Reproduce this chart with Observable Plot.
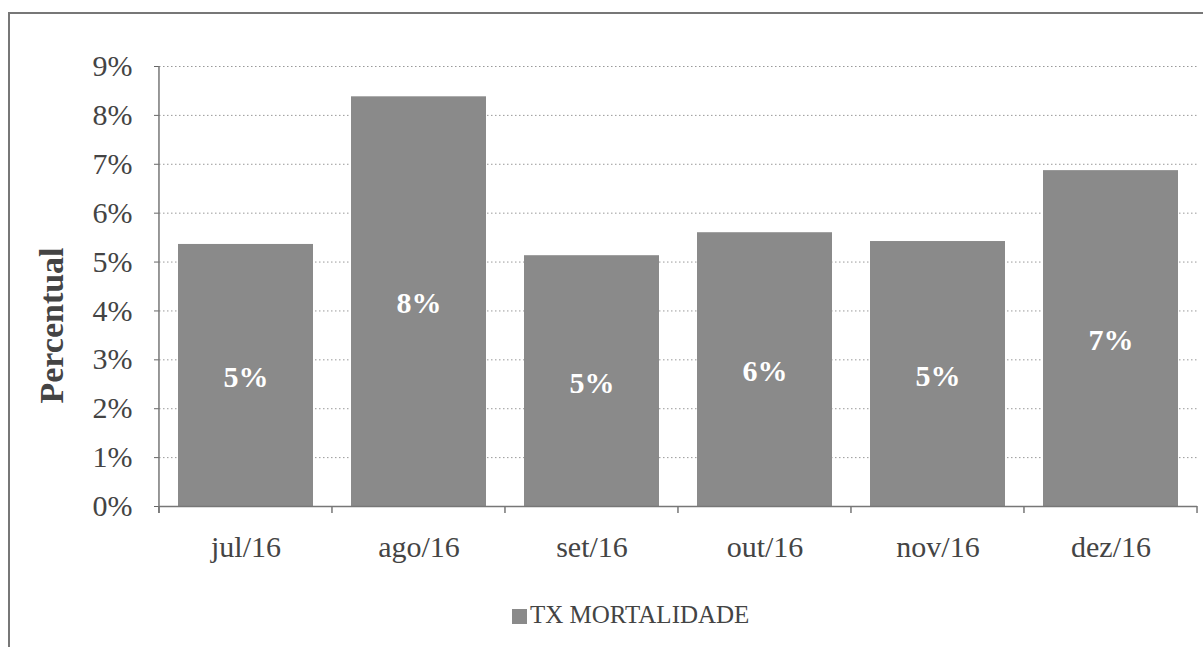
<!DOCTYPE html>
<html>
<head>
<meta charset="utf-8">
<script src="https://cdn.jsdelivr.net/npm/d3@7"></script>
<script src="https://cdn.jsdelivr.net/npm/@observablehq/plot@0.6"></script>
<style>
  html, body { margin: 0; padding: 0; background: #fff; overflow: hidden; }
  #wrap { position: relative; width: 1203px; height: 647px; overflow: hidden; }
  #frame { position: absolute; left: 8px; top: 12px; width: 1260px; height: 700px; border: 2px solid #777; box-sizing: border-box; }
  #chart { position: absolute; left: 0; top: 0; }
  #legend { position: absolute; left: 512px; top: 600px; font-family: "Liberation Serif", serif; font-size: 25px; color: #444; line-height: 30px; white-space: nowrap; }
  #legend .sw { display: inline-block; width: 15px; height: 15px; background: #8a8a8a; margin-right: 3px; vertical-align: -1px; }
</style>
</head>
<body>
<div id="wrap">
  <div id="frame"></div>
  <div id="chart"></div>
  <div id="legend"><span class="sw"></span>TX MORTALIDADE</div>
</div>
<script>
const months = ["jul/16", "ago/16", "set/16", "out/16", "nov/16", "dez/16"];
const mortalidade = [5.36, 8.38, 5.13, 5.60, 5.42, 6.87];
const yTicks = [0, 1, 2, 3, 4, 5, 6, 7, 8, 9];
const yLabel = "Percentual";

const data = months.map((m, i) => ({month: m, value: mortalidade[i]}));

const plot = Plot.plot({
  width: 1203,
  height: 580,
  marginLeft: 159,
  marginRight: 6,
  marginTop: 66,
  marginBottom: 74,
  style: {fontFamily: "Liberation Serif, serif", fontSize: "30px", color: "#444", background: "transparent"},
  x: {type: "band", domain: months, paddingInner: 0.22, paddingOuter: 0.11},
  y: {domain: [0, 9]},
  marks: [
    Plot.gridY(yTicks, {stroke: "#999", strokeOpacity: 1, strokeDasharray: "1.5,2.5", strokeWidth: 1}),
    Plot.barY(data, {x: "month", y: "value", fill: "#8a8a8a"}),
    Plot.text(data, {x: "month", y: d => d.value / 2, text: d => Math.round(d.value) + "%", fill: "#fff", fontWeight: "bold", fontSize: 30, dy: 2}),
    Plot.axisY(yTicks, {tickSize: 5, tickPadding: 22, tickFormat: d => d + "%", stroke: "#666", label: null}),
    Plot.axisX({tickSize: 0, tickPadding: 29, label: null}),
    Plot.ruleY([0], {stroke: "#777", strokeWidth: 1.5}),
    Plot.text([yLabel], {frameAnchor: "left", textAnchor: "middle", dx: -107, dy: 39, rotate: -90, fontWeight: "bold", fontSize: 34, fill: "#444"})
  ]
});
document.getElementById("chart").appendChild(plot);

// y axis line and category boundary ticks, from the library's band scale
const xs = plot.scale("x");
const ys = plot.scale("y");
const svg = d3.select(plot);
const step = xs.step !== undefined ? xs.step : xs.bandwidth / (1 - 0.22);
const pin = xs.paddingInner !== undefined ? xs.paddingInner : 0.22;
const y0 = ys.apply(0), y9 = ys.apply(9);
const g = svg.append("g").attr("stroke", "#777").attr("stroke-width", 1.5);
const bounds = months.map(m => xs.apply(m) - step * pin / 2);
bounds.push(xs.apply(months[months.length - 1]) + xs.bandwidth + step * pin / 2);
g.append("line").attr("x1", bounds[0]).attr("x2", bounds[0]).attr("y1", y9).attr("y2", y0 + 7);
bounds.forEach(b => g.append("line").attr("x1", b).attr("x2", b).attr("y1", y0).attr("y2", y0 + 7));
</script>
</body>
</html>
